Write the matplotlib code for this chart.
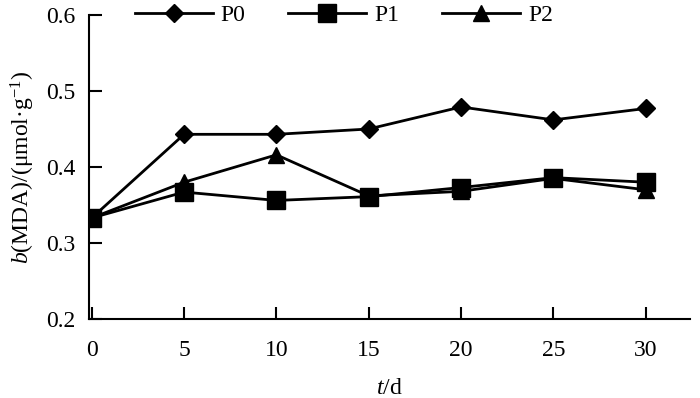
import matplotlib
matplotlib.use("Agg")
import matplotlib.pyplot as plt

plt.rcParams['font.family'] = ['Liberation Serif', 'DejaVu Serif']
plt.rcParams['mathtext.fontset'] = 'custom'
plt.rcParams['mathtext.rm'] = 'Liberation Serif'
plt.rcParams['mathtext.it'] = 'Liberation Serif:italic'

days = [0, 5, 10, 15, 20, 25, 30]
p0 = [0.333, 0.443, 0.443, 0.450, 0.479, 0.462, 0.477]
p1 = [0.333, 0.367, 0.356, 0.361, 0.373, 0.386, 0.380]
p2 = [0.333, 0.380, 0.416, 0.362, 0.368, 0.385, 0.370]
labels = ['P0', 'P1', 'P2']

fig = plt.figure(figsize=(7, 3.98), dpi=100)
ax = fig.add_axes([89/700, 1 - 319/398, (690 - 89)/700, (319 - 15)/398])

ax.plot(days, p0, color='black', lw=2, marker='D', ms=9, label=labels[0])
ax.plot(days, p1, color='black', lw=2, marker='s', ms=13, label=labels[1])
ax.plot(days, p2, color='black', lw=2, marker='^', ms=12, label=labels[2])

ax.set_xlim(-0.15, 32.4)
ax.set_ylim(0.2, 0.6)
ax.set_xticks(days)
ax.set_yticks([0.2, 0.3, 0.4, 0.5, 0.6])
ax.set_yticklabels(['0.2', '0.3', '0.4', '0.5', '0.6'])

for s in ['top', 'right']:
    ax.spines[s].set_visible(False)
for s in ['left', 'bottom']:
    ax.spines[s].set_linewidth(1.5)
ax.tick_params(direction='in', length=9, width=1.5, labelsize=17)
ax.tick_params(axis='y', pad=10)
ax.tick_params(axis='x', pad=15)

ax.set_xlabel('$t$/d', fontsize=17, labelpad=12)
ax.set_ylabel(r'$b$(MDA)/(μmol·g$^{-1}$)', fontsize=17, labelpad=6)

ax.legend(loc='center', bbox_to_anchor=(0.424, 1.0), ncol=3, frameon=False,
          fontsize=17, handlelength=3.3, columnspacing=1.8, handletextpad=0.35,
          borderpad=0)

fig.savefig('out.png', dpi=100)
